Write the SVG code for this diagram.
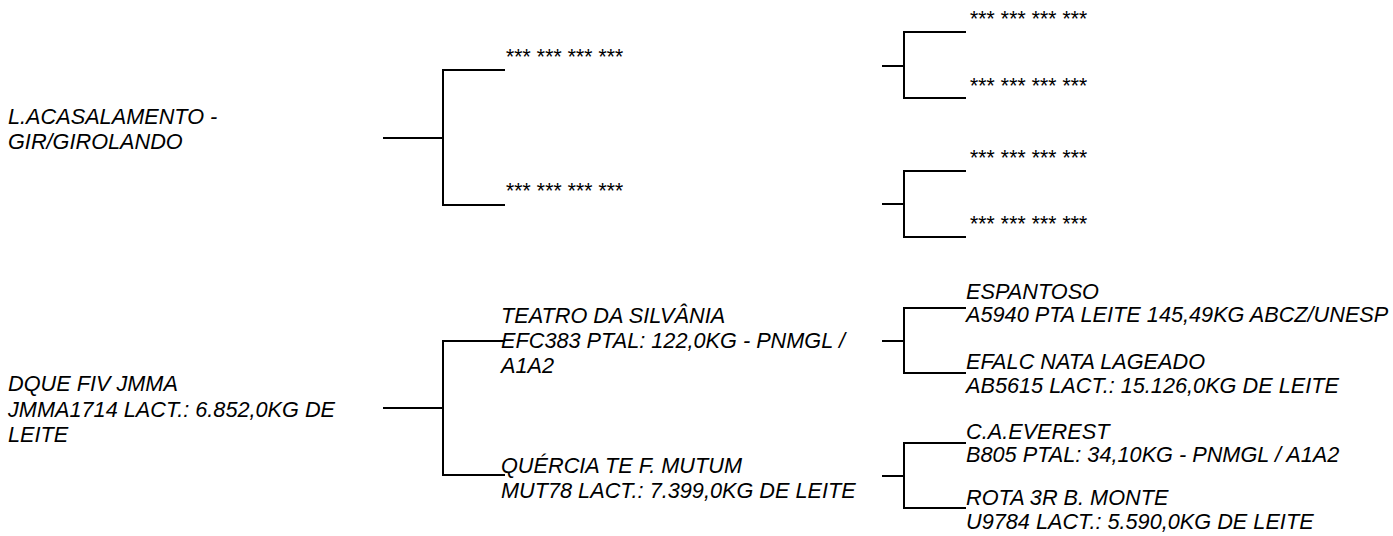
<svg xmlns="http://www.w3.org/2000/svg" width="1393" height="536" viewBox="0 0 1393 536">
  <style>
    .t { font-family: "Liberation Sans", Arial, sans-serif; font-style: italic; font-size: 21.7px; fill: #000; }
    .s { font-family: "Liberation Sans", Arial, sans-serif; font-style: italic; font-size: 21.33px; fill: #000; }
    .c { fill: none; stroke: #000; stroke-width: 2; stroke-linecap: butt; stroke-linejoin: miter; }
  </style>
  <rect width="1393" height="536" fill="#fff"/>
  <g id="connectors">
    <path class="c" d="M383,138 H443"/>
    <path class="c" d="M505,70 H443 V205 H505"/>
    <path class="c" d="M882,66 H904"/>
    <path class="c" d="M966,32 H904 V98 H966"/>
    <path class="c" d="M882,204 H904"/>
    <path class="c" d="M966,171 H904 V237 H966"/>
    <path class="c" d="M383,408 H443"/>
    <path class="c" d="M505,341 H443 V475 H505"/>
    <path class="c" d="M882,341 H904"/>
    <path class="c" d="M966,308 H904 V373 H966"/>
    <path class="c" d="M882,476 H904"/>
    <path class="c" d="M966,443 H904 V508 H966"/>
  </g>
  <g id="node-root-top"><text class="t"><tspan x="8" y="123.5">L.ACASALAMENTO -</tspan><tspan x="8" y="148.5">GIR/GIROLANDO</tspan></text></g>
  <g id="node-top-sire"><text class="s" x="505" y="64">*** *** *** ***</text></g>
  <g id="node-top-dam"><text class="s" x="505" y="197.5">*** *** *** ***</text></g>
  <g id="node-top-ss"><text class="s" x="969" y="25.5">*** *** *** ***</text></g>
  <g id="node-top-sd"><text class="s" x="969" y="92.5">*** *** *** ***</text></g>
  <g id="node-top-ds"><text class="s" x="969" y="164.5">*** *** *** ***</text></g>
  <g id="node-top-dd"><text class="s" x="969" y="231">*** *** *** ***</text></g>

  <g id="node-root-bottom"><text class="t"><tspan x="8" y="391">DQUE FIV JMMA</tspan><tspan x="8" y="416.5">JMMA1714 LACT.: 6.852,0KG DE</tspan><tspan x="8" y="442">LEITE</tspan></text></g>
  <g id="node-sire"><text class="t"><tspan x="501" y="323">TEATRO DA SILVÂNIA</tspan><tspan x="501" y="348">EFC383 PTAL: 122,0KG - PNMGL /</tspan><tspan x="501" y="373">A1A2</tspan></text></g>
  <g id="node-dam"><text class="t"><tspan x="501" y="472.5">QUÉRCIA TE F. MUTUM</tspan><tspan x="501" y="497.5">MUT78 LACT.: 7.399,0KG DE LEITE</tspan></text></g>
  <g id="node-ss"><text class="t"><tspan x="966" y="298.5">ESPANTOSO</tspan><tspan x="966" y="321.5">A5940 PTA LEITE 145,49KG ABCZ/UNESP</tspan></text></g>
  <g id="node-sd"><text class="t"><tspan x="966" y="368.5">EFALC NATA LAGEADO</tspan><tspan x="966" y="392.5">AB5615 LACT.: 15.126,0KG DE LEITE</tspan></text></g>
  <g id="node-ds"><text class="t"><tspan x="966" y="438.5">C.A.EVEREST</tspan><tspan x="966" y="461.5">B805 PTAL: 34,10KG - PNMGL / A1A2</tspan></text></g>
  <g id="node-dd"><text class="t"><tspan x="966" y="504.5">ROTA 3R B. MONTE</tspan><tspan x="966" y="528.5">U9784 LACT.: 5.590,0KG DE LEITE</tspan></text></g>
</svg>
